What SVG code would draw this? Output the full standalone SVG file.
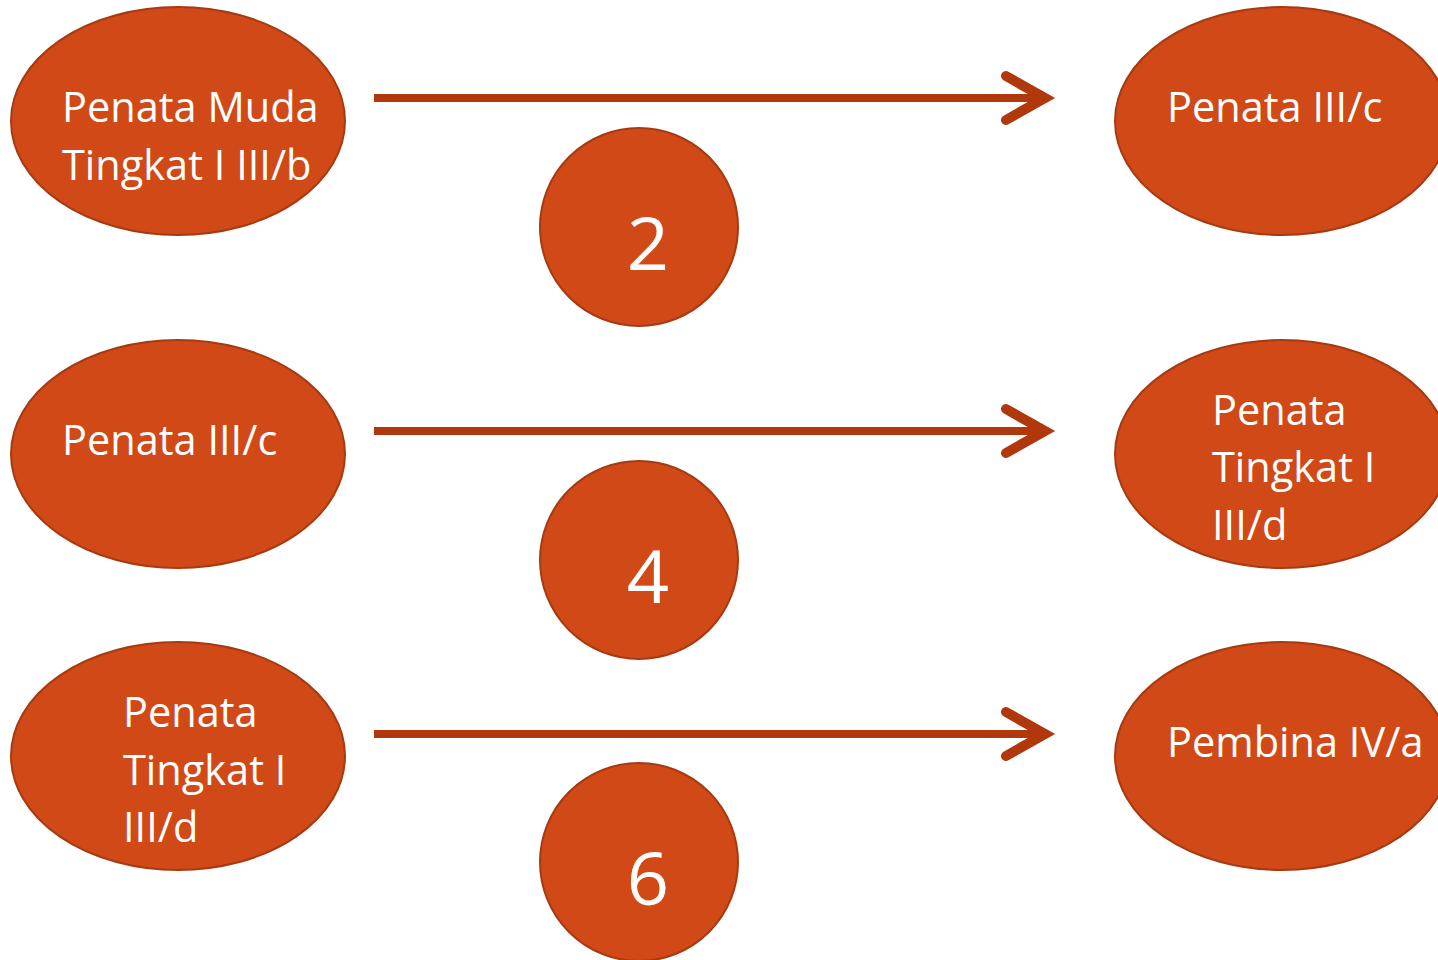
<svg xmlns="http://www.w3.org/2000/svg" width="1438" height="960" viewBox="0 0 1438 960">
<style>
.n{fill:#D14917;stroke:#A63A12;stroke-width:2}
.t{fill:#fff;font-family:"Open Sans","Liberation Sans",sans-serif;font-size:41.5px}
.d{fill:#fff;font-family:"Open Sans","Liberation Sans",sans-serif;font-size:74px;text-anchor:middle}
.c{stroke:#B1370D;fill:none;stroke-width:8}
.h{stroke:#B1370D;fill:none;stroke-width:10;stroke-linecap:round;stroke-linejoin:miter}
</style>
<rect width="1438" height="960" fill="#fff"/>
<g id="connectors">
<line class="c" x1="374" y1="98" x2="1044" y2="98"/>
<polyline class="h" points="1006,76 1045,98 1006,120"/>
<line class="c" x1="374" y1="431" x2="1044" y2="431"/>
<polyline class="h" points="1006,409 1045,431 1006,453"/>
<line class="c" x1="374" y1="734" x2="1044" y2="734"/>
<polyline class="h" points="1006,712 1045,734 1006,756"/>
</g>
<g id="n1"><ellipse class="n" cx="178" cy="121" rx="167" ry="114"/>
<text class="t" x="62" y="122">Penata Muda</text><text class="t" x="62" y="180">Tingkat I III/b</text></g>
<g id="n2"><ellipse class="n" cx="1282" cy="121" rx="167" ry="114"/>
<text class="t" x="1167" y="122">Penata III/c</text></g>
<g id="c1"><circle class="n" cx="639" cy="227" r="99"/><text class="d" x="648" y="270">2</text></g>
<g id="n3"><ellipse class="n" cx="178" cy="454" rx="167" ry="114"/>
<text class="t" x="62" y="455">Penata III/c</text></g>
<g id="n4"><ellipse class="n" cx="1282" cy="454" rx="167" ry="114"/>
<text class="t" x="1212" y="425">Penata</text><text class="t" x="1212" y="482">Tingkat I</text><text class="t" x="1212" y="540">III/d</text></g>
<g id="c2"><circle class="n" cx="639" cy="560" r="99"/><text class="d" x="648" y="603">4</text></g>
<g id="n5"><ellipse class="n" cx="178" cy="756" rx="167" ry="114"/>
<text class="t" x="123" y="727">Penata</text><text class="t" x="123" y="785">Tingkat I</text><text class="t" x="123" y="842">III/d</text></g>
<g id="n6"><ellipse class="n" cx="1282" cy="756" rx="167" ry="114"/>
<text class="t" x="1167" y="757">Pembina IV/a</text></g>
<g id="c3"><circle class="n" cx="639" cy="862" r="99"/><text class="d" x="648" y="905">6</text></g>
</svg>
